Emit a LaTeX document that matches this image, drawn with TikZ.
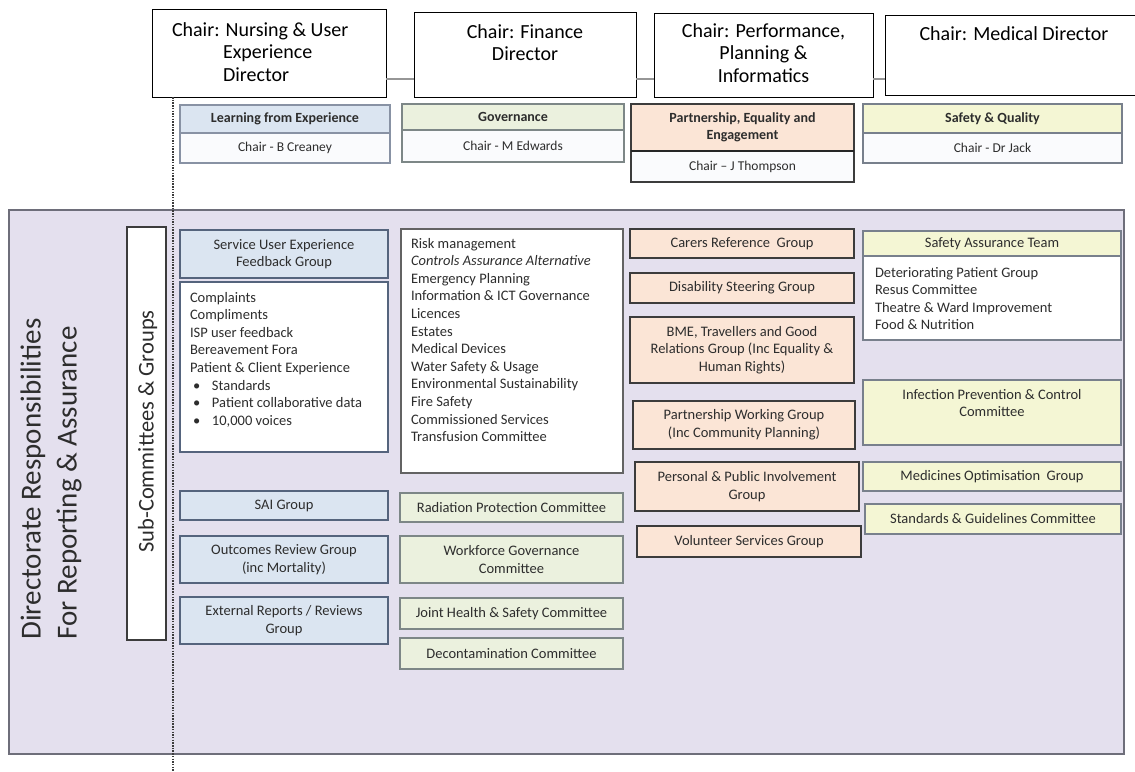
\documentclass[tikz,border=0pt]{standalone}
\usepackage{fontspec}
\setmainfont{Carlito}
\usetikzlibrary{calc}

\definecolor{ink}{RGB}{45,45,45}
\definecolor{lav}{RGB}{228,224,238}
\definecolor{lavedge}{RGB}{110,110,122}
\definecolor{bluefill}{RGB}{219,229,241}
\definecolor{blueedge}{RGB}{85,100,125}
\definecolor{greenfill}{RGB}{235,241,222}
\definecolor{greenedge}{RGB}{125,135,135}
\definecolor{orangefill}{RGB}{251,229,214}
\definecolor{orangeedge}{RGB}{60,60,60}
\definecolor{yellowfill}{RGB}{244,246,212}
\definecolor{yellowedge}{RGB}{120,128,140}
\definecolor{subfill}{RGB}{250,251,253}
\definecolor{linkgray}{RGB}{150,150,150}
\definecolor{dotgray}{RGB}{60,60,60}

\newcommand\ftchair{\fontsize{20}{22.5}\selectfont}
\newcommand\ftlist{\fontsize{14.5}{17.6}\selectfont}
\newcommand\fthead{\fontsize{14}{17.5}\selectfont\bfseries}
\newcommand\ftsub{\fontsize{13.5}{16}\selectfont}
\newcommand\ftside{\fontsize{29}{36}\selectfont}
\newcommand\ftsubc{\fontsize{22.5}{24}\selectfont}

% box from (x1,y1) to (x2,y2): name, x1, y1, x2, y2, style, text
\newcommand\mkbox[7]{\node[#6, anchor=north west, minimum width={#4pt-#2pt}, minimum height={#5pt-#3pt}] (#1) at (#2,#3) {#7};}

\tikzset{
  every node/.style={inner sep=0pt, outer sep=0pt, text=ink},
  panelbox/.style={draw=lavedge, line width=1.3pt, fill=lav},
  chairbox/.style={draw=black, line width=0.9pt, fill=white},
  chairtxt/.style={font=\ftchair, text=black, align=center},
  link/.style={draw=linkgray, line width=1.6pt},
  guide/.style={draw=dotgray, line width=1.3pt, dash pattern=on 1.5pt off 1.2pt},
  headblue/.style={draw=blueedge!70, line width=1.2pt, fill=bluefill, font=\fthead, align=center},
  headgreen/.style={draw=greenedge, line width=1.2pt, fill=greenfill, font=\fthead, align=center},
  headorange/.style={draw=orangeedge, line width=1.3pt, fill=orangefill, font=\fthead, align=center},
  headyellow/.style={draw=yellowedge, line width=1.2pt, fill=yellowfill, font=\fthead, align=center},
  headsub/.style={line width=1.2pt, fill=subfill, font=\ftsub, align=center},
  bluebox/.style={draw=blueedge, line width=1.3pt, fill=bluefill, font=\ftlist, align=center},
  greenbox/.style={draw=greenedge, line width=1.2pt, fill=greenfill, font=\ftlist, align=center},
  orangebox/.style={draw=orangeedge, line width=1.6pt, fill=orangefill, font=\ftlist, align=center},
  yellowbox/.style={draw=yellowedge, line width=1.2pt, fill=yellowfill, font=\ftlist, align=center},
  listbox/.style={line width=1.2pt, fill=white},
  listtxt/.style={font=\ftlist, align=left},
  sidebox/.style={draw=dotgray, line width=1.3pt, fill=white},
}

\begin{document}
\begin{tikzpicture}[x=1pt,y=-1pt]
\useasboundingbox (0,0) rectangle (1135,771);

% reporting panel
\mkbox{panel}{9}{210}{1124}{754}{panelbox}{}
\node[font=\ftside, align=left, rotate=90] (dir) at (51,479)
  {Directorate Responsibilities\\For Reporting \& Assurance};
\mkbox{subc}{127}{227}{166}{640}{sidebox}{}
\node[font=\ftsubc, rotate=90] (subct) at ($(subc.center)+(1,-2)$) {Sub-Committees \& Groups};

% chair boxes
\mkbox{c1}{152}{9}{386}{97}{chairbox}{}
\mkbox{c2}{414}{12}{636}{97}{chairbox}{}
\mkbox{c3}{654}{13}{873}{97}{chairbox}{}
\mkbox{c4}{885}{15}{1145}{95}{chairbox}{}
\node[chairtxt, align=left, anchor=north west] (c1t) at ($(c1.north west)+(20,11.25)$)
  {\strut Chair: Nursing \& User\\\hspace*{51pt}Experience\\\hspace*{51pt}Director};
\node[chairtxt, anchor=north] (c2t) at ($(c2.north)+(0,10.25)$) {\strut Chair: Finance\\Director};
\node[chairtxt, anchor=north] (c3t) at ($(c3.north)+(0,8.25)$) {\strut Chair: Performance,\\Planning \&\\Informatics};
\node[chairtxt, anchor=north] (c4t) at ($(c4.north west)+(129,9.25)$) {\strut Chair: Medical Director};

% links between chairs
\coordinate (hl) at (0,79);
\draw[link] (c1.east |- hl) -- (c2.west |- hl);
\draw[link] (c2.east |- hl) -- (c3.west |- hl);
\draw[link] (c3.east |- hl) -- (c4.west |- hl);

% directorate headers
\mkbox{h1}{180}{105}{390}{133}{headblue}{Learning from Experience}
\mkbox{h1s}{180}{133}{390}{163}{headsub, draw=blueedge!70}{Chair - B Creaney}
\mkbox{h2}{402}{104}{624}{130}{headgreen}{Governance}
\mkbox{h2s}{402}{130}{624}{162}{headsub, draw=greenedge}{Chair - M Edwards}
\mkbox{h3}{631}{104}{854}{151}{headorange}{Partnership, Equality and\\Engagement}
\mkbox{h3s}{631}{151}{854}{182}{headsub, draw=orangeedge}{Chair -- J Thompson}
\draw[draw=black!85, line width=2.6pt] (h3.south west) -- (h3.south east);
\mkbox{h4}{863}{104}{1122}{133}{headyellow}{Safety \& Quality}
\mkbox{h4s}{863}{133}{1122}{163}{headsub, draw=yellowedge}{Chair - Dr Jack}

% guide line
\coordinate (vb) at (173,771);
\draw[guide] (c1.south -| vb) -- (vb);

% column 1
\mkbox{sue}{180}{230}{388}{278}{bluebox}{Service User Experience\\Feedback Group}
\mkbox{l1}{180}{282}{388}{452}{listbox, draw=blueedge}{}
\node[listtxt, anchor=north west] (l1t) at ($(l1.north west)+(10,7.7)$)
  {\strut Complaints\\
   Compliments\\
   ISP user feedback\\
   Bereavement Fora\\
   Patient \& Client Experience\\
   \hspace*{3pt}\makebox[19pt][l]{\textbullet}Standards\\
   \hspace*{3pt}\makebox[19pt][l]{\textbullet}Patient collaborative data\\
   \hspace*{3pt}\makebox[19pt][l]{\textbullet}10,000 voices};
\mkbox{sai}{180}{491}{388}{520}{bluebox}{SAI Group}
\mkbox{org}{180}{536}{388}{583}{bluebox}{Outcomes Review Group\\(inc Mortality)}
\mkbox{ext}{180}{597}{388}{644}{bluebox}{External Reports / Reviews\\Group}

% column 2
\mkbox{l2}{401}{229}{623}{473}{listbox, draw=dotgray!80}{}
\node[listtxt, anchor=north west] (l2t) at ($(l2.north west)+(10,6.7)$)
  {\strut Risk management\\
   \textit{Controls Assurance Alternative}\\
   Emergency Planning\\
   Information \& ICT Governance\\
   Licences\\
   Estates\\
   Medical Devices\\
   Water Safety \& Usage\\
   Environmental Sustainability\\
   Fire Safety\\
   Commissioned Services\\
   Transfusion Committee};
\mkbox{rad}{400}{493}{623}{522}{greenbox}{Radiation Protection Committee}
\mkbox{wfg}{400}{536}{623}{583}{greenbox}{Workforce Governance\\Committee}
\mkbox{jhs}{400}{598}{623}{629}{greenbox}{Joint Health \& Safety Committee}
\mkbox{dec}{400}{638}{623}{669}{greenbox}{Decontamination Committee}

% column 3
\mkbox{crg}{630}{229}{854}{258}{orangebox}{Carers Reference~ Group}
\mkbox{dsg}{630}{273}{854}{303}{orangebox}{Disability Steering Group}
\mkbox{bme}{630}{317}{854}{383}{orangebox}{BME, Travellers and Good\\Relations Group (Inc Equality \&\\Human Rights)}
\mkbox{pwg}{633}{401}{855}{449}{orangebox}{Partnership Working Group\\(Inc Community Planning)}
\mkbox{ppi}{635}{462}{859}{511}{orangebox}{Personal \& Public Involvement\\Group}
\mkbox{vsg}{637}{526}{861}{557}{orangebox}{Volunteer Services Group}

% column 4
\mkbox{sat}{863}{231}{1121}{256}{yellowbox}{Safety Assurance Team}
\mkbox{l4}{863}{256}{1121}{340}{listbox, draw=yellowedge}{}
\node[listtxt, anchor=north west] (l4t) at ($(l4.north west)+(12,8.7)$)
  {\strut Deteriorating Patient Group\\
   Resus Committee\\
   Theatre \& Ward Improvement\\
   Food \& Nutrition};
\mkbox{ipc}{863}{380}{1121}{445}{yellowbox}{}
\node[font=\ftlist, align=center, anchor=north] (ipct) at ($(ipc.north)+(0,6.7)$)
  {\strut Infection Prevention \& Control\\Committee};
\mkbox{mog}{863}{462}{1121}{491}{yellowbox}{Medicines Optimisation~ Group}
\mkbox{sgc}{865}{504}{1121}{534}{yellowbox}{Standards \& Guidelines Committee}
\end{tikzpicture}
\end{document}
